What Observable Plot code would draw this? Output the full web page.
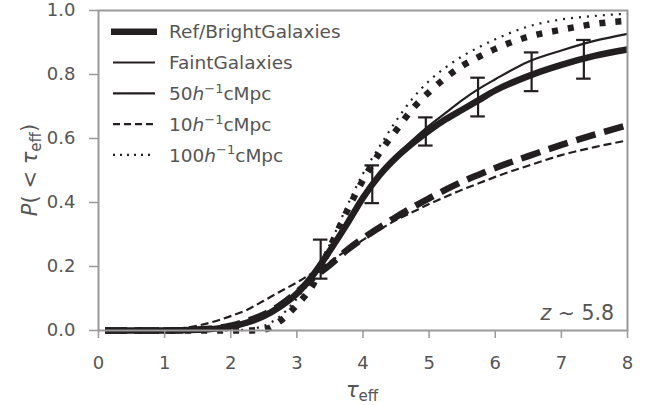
<!DOCTYPE html>
<html><head><meta charset="utf-8">
<script src="https://cdn.jsdelivr.net/npm/d3@7"></script>
<script src="https://cdn.jsdelivr.net/npm/@observablehq/plot@0.6"></script>
<style>body{margin:0;background:#fff}</style>
</head><body><div id="chart"></div>
<script>
// tau_eff sample grid shared by all model curves
const TAU = [0.1, 0.5, 1, 1.5, 2, 2.25, 2.5, 2.75, 3, 3.25, 3.5, 3.75, 4, 4.25, 4.5, 4.75, 5, 5.25, 5.5, 5.75, 6, 6.5, 7, 7.5, 8];
// Ref/BrightGalaxies (thick) curves
const REF_50  = [0, 0, 0, 0.002, 0.012, 0.025, 0.045, 0.075, 0.115, 0.175, 0.25, 0.33, 0.415, 0.485, 0.54, 0.585, 0.625, 0.66, 0.69, 0.72, 0.75, 0.795, 0.83, 0.858, 0.878];
const REF_10  = [0, 0, 0, 0.003, 0.015, 0.03, 0.05, 0.08, 0.12, 0.165, 0.205, 0.25, 0.288, 0.322, 0.355, 0.385, 0.413, 0.44, 0.465, 0.487, 0.508, 0.545, 0.58, 0.612, 0.642];
const REF_100 = [0, 0, 0, 0, 0, 0, 0.003, 0.03, 0.08, 0.145, 0.26, 0.37, 0.47, 0.555, 0.625, 0.693, 0.745, 0.79, 0.827, 0.855, 0.88, 0.918, 0.94, 0.958, 0.968];
// FaintGalaxies (thin) curves
const FAINT_50  = [0, 0, 0, 0.001, 0.008, 0.02, 0.04, 0.07, 0.11, 0.17, 0.25, 0.335, 0.42, 0.49, 0.545, 0.595, 0.64, 0.68, 0.72, 0.755, 0.785, 0.84, 0.875, 0.905, 0.927];
const FAINT_10  = [0, 0, 0.002, 0.015, 0.045, 0.065, 0.093, 0.122, 0.15, 0.182, 0.215, 0.25, 0.283, 0.315, 0.345, 0.37, 0.395, 0.418, 0.44, 0.46, 0.48, 0.515, 0.548, 0.573, 0.594];
const FAINT_100 = [0, 0, 0, 0, 0, 0.003, 0.015, 0.045, 0.1, 0.17, 0.27, 0.385, 0.49, 0.575, 0.655, 0.725, 0.78, 0.822, 0.857, 0.885, 0.91, 0.95, 0.972, 0.983, 0.99];
// observed distribution with error bars
const OBS_TAU = [3.36, 4.14, 4.95, 5.74, 6.55, 7.34];
const OBS_LO  = [0.162, 0.398, 0.578, 0.669, 0.748, 0.787];
const OBS_HI  = [0.284, 0.516, 0.666, 0.790, 0.869, 0.908];
// ticks and labels
const X_TICKS = [0, 1, 2, 3, 4, 5, 6, 7, 8];
const Y_TICKS = [0, 0.2, 0.4, 0.6, 0.8, 1.0];
const LEGEND = [
  {label: ["Ref/BrightGalaxies"], w: 6.5, dash: null},
  {label: ["FaintGalaxies"], w: 2.2, dash: null},
  {label: ["50", "h", "−1", "cMpc"], w: 2.2, dash: null},
  {label: ["10", "h", "−1", "cMpc"], w: 2.2, dash: "7,4"},
  {label: ["100", "h", "−1", "cMpc"], w: 2.2, dash: "2,5"}
];
const REDSHIFT = "5.8";

const INK = "#231f20";
const curves = [
  {y: REF_50,  w: 6.5, dash: null},
  {y: REF_10,  w: 6.5, dash: "20,9"},
  {y: REF_100, w: 6.5, dash: "6,10"},
  {y: FAINT_50,  w: 2.2, dash: null},
  {y: FAINT_10,  w: 2.2, dash: "8,4"},
  {y: FAINT_100, w: 2.2, dash: "2,6"}
];
const obs = OBS_TAU.map((t, i) => ({tau: t, lo: OBS_LO[i], hi: OBS_HI[i]}));

const svg = Plot.plot({
  width: 657, height: 405,
  marginLeft: 98, marginRight: 30, marginTop: 10, marginBottom: 75,
  style: {fontFamily: "DejaVu Sans, sans-serif", fontSize: "18px", background: "#fff"},
  x: {domain: [0, 8]},
  y: {domain: [0, 1]},
  marks: [
    ...curves.map(c => Plot.line(TAU.map((t, i) => ({tau: t, p: c.y[i]})), {
      x: "tau", y: "p", stroke: INK, strokeWidth: c.w, strokeDasharray: c.dash,
      strokeLinecap: "butt", strokeLinejoin: "round", curve: "monotone-x"
    })),
    Plot.ruleX(obs, {x: "tau", y1: "lo", y2: "hi", stroke: INK, strokeWidth: 2.2}),
    Plot.ruleY(obs, {y: "lo", x1: d => d.tau - 0.11, x2: d => d.tau + 0.11, stroke: INK, strokeWidth: 2.2}),
    Plot.ruleY(obs, {y: "hi", x1: d => d.tau - 0.11, x2: d => d.tau + 0.11, stroke: INK, strokeWidth: 2.2}),
    Plot.frame({stroke: "#999", strokeWidth: 2}),
    Plot.axisX({ticks: X_TICKS, tickFormat: d3.format("d"), tickSize: 8, tickPadding: 18, stroke: "#999", strokeWidth: 1.5, fill: "#555", fontSize: 18, label: null}),
    Plot.axisY({ticks: Y_TICKS, tickFormat: d3.format(".1f"), tickSize: 9, tickPadding: 14, stroke: "#999", strokeWidth: 1.5, fill: "#555", fontSize: 18, label: null})
  ]
});
document.getElementById("chart").appendChild(svg);

const s = d3.select(svg);
const font = "DejaVu Sans, sans-serif";
// legend
const lg = s.append("g").attr("font-family", font).attr("font-size", 18.5).attr("fill", "#555").attr("text-anchor", "start");
LEGEND.forEach((e, i) => {
  const y = 31.7 + i * 30.8;
  lg.append("line").attr("x1", i === 0 ? 111 : 113).attr("x2", i === 0 ? 157 : 155)
    .attr("y1", y).attr("y2", y).attr("stroke", INK).attr("stroke-width", e.w)
    .attr("stroke-dasharray", e.dash);
  const t = lg.append("text").attr("x", 169).attr("y", y).attr("dy", "0.36em");
  if (e.label.length === 1) t.text(e.label[0]);
  else {
    t.append("tspan").text(e.label[0]);
    t.append("tspan").attr("font-style", "italic").text(e.label[1]);
    t.append("tspan").attr("font-size", 13).attr("dy", "-0.55em").text(e.label[2]);
    t.append("tspan").attr("dy", "0.4em").text(e.label[3]);
  }
});
// redshift label
const zt = s.append("text").attr("x", 614).attr("y", 320).attr("text-anchor", "end")
  .attr("font-family", font).attr("font-size", 20.5).attr("fill", "#555");
zt.append("tspan").attr("font-style", "italic").text("z");
zt.append("tspan").text(" ∼ " + REDSHIFT);
// x label
const xl = s.append("text").attr("x", 362).attr("y", 397).attr("text-anchor", "middle")
  .attr("font-family", font).attr("font-size", 21).attr("fill", "#555");
xl.append("tspan").attr("font-style", "italic").text("τ");
xl.append("tspan").attr("font-size", 15).attr("dy", "0.25em").text("eff");
// y label
const yl = s.append("text").attr("transform", "translate(37,170) rotate(-90)").attr("text-anchor", "middle")
  .attr("font-family", font).attr("font-size", 21).attr("fill", "#555");
yl.append("tspan").attr("font-style", "italic").text("P");
yl.append("tspan").text("( < ");
yl.append("tspan").attr("font-style", "italic").text("τ");
yl.append("tspan").attr("font-size", 15).attr("dy", "0.25em").text("eff");
yl.append("tspan").attr("dy", "-0.25em").text(")");
</script>
</body></html>
